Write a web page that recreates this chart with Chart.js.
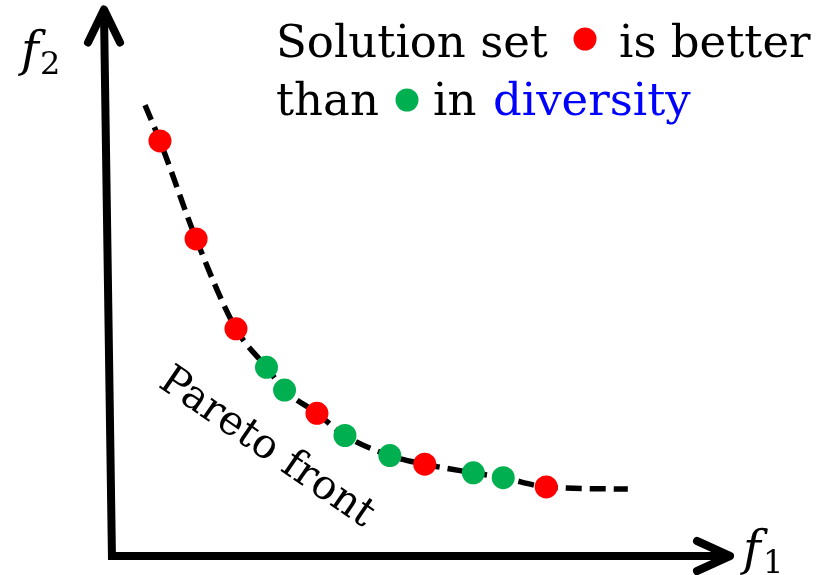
<!DOCTYPE html>
<html>
<head>
<meta charset="utf-8">
<title>Pareto front diversity</title>
<script src="https://cdn.jsdelivr.net/npm/chart.js@4.4.0/dist/chart.umd.min.js"></script>
<style>
  html, body { margin: 0; padding: 0; background: #fff; }
  canvas { display: block; }
</style>
</head>
<body>
<canvas id="paretoChart" width="827" height="575"></canvas>
<script>
// solution set A (red) and solution set B (green), objective values f1 / f2
const redF1 = [8.5, 14.3, 20.7, 33.7, 51.0, 70.5]
const redF2 = [76.1, 58.0, 41.4, 25.8, 16.4, 12.2]
const greenF1 = [25.6, 28.5, 38.2, 45.4, 58.8, 63.6]
const greenF2 = [34.3, 30.1, 21.7, 18.0, 14.8, 13.9]

// the true pareto front, traced through the solutions
const frontF1 = [6.1, 8.5, 14.3, 20.7, 25.6, 28.5, 33.7, 38.2, 45.4, 51.0, 58.8, 63.6, 70.5, 83.6]
const frontF2 = [82.7, 76.1, 58.0, 41.4, 34.3, 30.1, 25.8, 21.7, 18.0, 16.4, 14.8, 13.9, 12.2, 11.8]

const RED = '#ff0000'
const GREEN = '#00b050'
const serif = '"DejaVu Serif", serif'

function toPoints(xs, ys){
    let pts=[]
    for(let i=0;i<xs.length;i++){
        pts.push({x: xs[i], y: ys[i]})
    }
    return pts
}

// draws the two arrows for the f1 / f2 axes and all the words
const decorations = {
    id: 'decorations',
    beforeDatasetsDraw(chart){
        const ctx = chart.ctx
        const a = chart.chartArea
        ctx.save()
        ctx.strokeStyle = '#000'
        ctx.lineWidth = 8
        ctx.lineJoin = 'round'

        // f2 axis (slightly leaning, as drawn by hand)
        const topX = a.left - 3, topY = a.top - 2
        const cornerX = a.left + 5, cornerY = a.bottom + 3
        ctx.beginPath()
        ctx.lineCap = 'butt'
        ctx.moveTo(topX, topY + 4)
        ctx.lineTo(cornerX, cornerY + 4)
        ctx.stroke()
        ctx.beginPath()
        ctx.moveTo(cornerX - 4, cornerY)
        ctx.lineTo(a.right - 2, cornerY)
        ctx.stroke()

        ctx.lineCap = 'round'
        // arrow head up
        ctx.beginPath()
        ctx.moveTo(topX - 16, topY + 33)
        ctx.lineTo(topX, topY)
        ctx.lineTo(topX + 16, topY + 33)
        ctx.stroke()
        // arrow head right
        ctx.beginPath()
        ctx.moveTo(a.right - 33, cornerY - 15)
        ctx.lineTo(a.right, cornerY)
        ctx.lineTo(a.right - 33, cornerY + 15)
        ctx.stroke()
        ctx.restore()
    },
    afterDraw(chart){
        const ctx = chart.ctx
        ctx.save()
        ctx.textBaseline = 'alphabetic'
        ctx.textAlign = 'left'

        // axis names
        ctx.fillStyle = '#000'
        ctx.font = 'italic 48px ' + serif
        ctx.fillText('f', 21, 66)
        ctx.fillText('f', 743, 565)
        ctx.font = '32px ' + serif
        ctx.fillText('2', 40, 74)
        ctx.fillText('1', 763, 573)

        // caption
        ctx.font = '45px ' + serif
        ctx.fillText('Solution set', 276, 57)
        ctx.fillText('is better', 619, 57)
        ctx.fillText('than', 276, 115)
        ctx.fillText('in', 433, 115)
        ctx.fillStyle = '#0000ff'
        ctx.fillText('diversity', 493, 115)

        ctx.fillStyle = RED
        ctx.beginPath()
        ctx.arc(585, 39, 11.5, 0, Math.PI*2)
        ctx.fill()
        ctx.fillStyle = GREEN
        ctx.beginPath()
        ctx.arc(407, 100, 11.5, 0, Math.PI*2)
        ctx.fill()

        // label along the front
        ctx.fillStyle = '#000'
        ctx.font = '41px ' + serif
        ctx.translate(157, 386)
        ctx.rotate(34.5*Math.PI/180)
        ctx.fillText('Pareto front', 0, 0)
        ctx.restore()
    }
}

const ctx = document.getElementById('paretoChart')
const myChart = new Chart(ctx, {
    type: 'scatter',
    data: {
        datasets: [
            {
                label: 'set A',
                data: toPoints(redF1, redF2),
                backgroundColor: RED,
                borderWidth: 0,
                pointRadius: 11.5,
                order: 1
            },
            {
                label: 'set B',
                data: toPoints(greenF1, greenF2),
                backgroundColor: GREEN,
                borderWidth: 0,
                pointRadius: 11.5,
                order: 1
            },
            {
                label: 'Pareto front',
                type: 'line',
                data: toPoints(frontF1, frontF2),
                borderColor: '#000',
                borderWidth: 5.5,
                borderDash: [16, 8],
                cubicInterpolationMode: 'monotone',
                pointRadius: 0,
                fill: false,
                order: 2
            }
        ]
    },
    options: {
        responsive: false,
        animation: false,
        devicePixelRatio: 1,
        layout: { padding: { left: 107, right: 97, top: 10, bottom: 22 } },
        plugins: {
            legend: { display: false },
            tooltip: { enabled: false }
        },
        scales: {
            x: { type: 'linear', min: 0, max: 100, display: false },
            y: { type: 'linear', min: 0, max: 100, display: false }
        }
    },
    plugins: [decorations]
})
</script>
</body>
</html>
